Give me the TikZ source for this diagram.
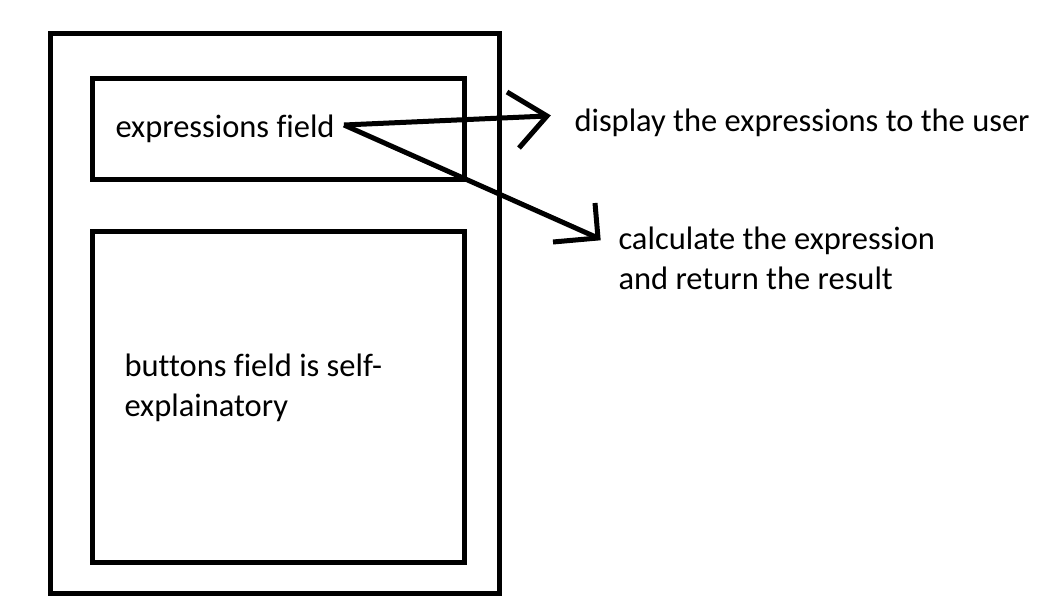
\documentclass[tikz,border=0pt]{standalone}
\usepackage{fontspec}
\setmainfont{Carlito}[Ligatures=NoCommon]
\usepackage{tikz}
\usetikzlibrary{calc}

\begin{document}
\begin{tikzpicture}[x=1pt,y=-1pt,line width=5pt,
  box/.style={draw,rectangle,inner sep=0pt},
  txt/.style={inner sep=0pt,anchor=base west,align=left,font=\fontsize{32.5}{40}\selectfont}]
\useasboundingbox (0,0) rectangle (1045,612);
\node[box,minimum width=449pt,minimum height=560pt](outer)at(275,313.5){};
\node[box,minimum width=372pt,minimum height=101pt](exprbox)at(278.5,129){};
\node[box,minimum width=372pt,minimum height=330.5pt](btnbox)at(278.5,397.25){};
% anchors of the two-line texts sit on their last baseline
\node[txt](exprtext)at(113,138){expressions field};
\node[txt](btntext)at(122,417){buttons field is self-\\explainatory};
\node[txt](disptext)at(572,132){display the expressions to the user};
\node[txt](calctext)at(616,290){calculate the expression\\and return the result};
\coordinate(start)at(344,125);
\coordinate(disptip)at(547,116);
\coordinate(calctip)at(598,238);
\draw(start)--(disptip);
\draw(start)--(calctip);
\draw(507,92)--(disptip)--(519,148);
\draw(595,203)--(calctip)--(553,242);
\end{tikzpicture}
\end{document}
